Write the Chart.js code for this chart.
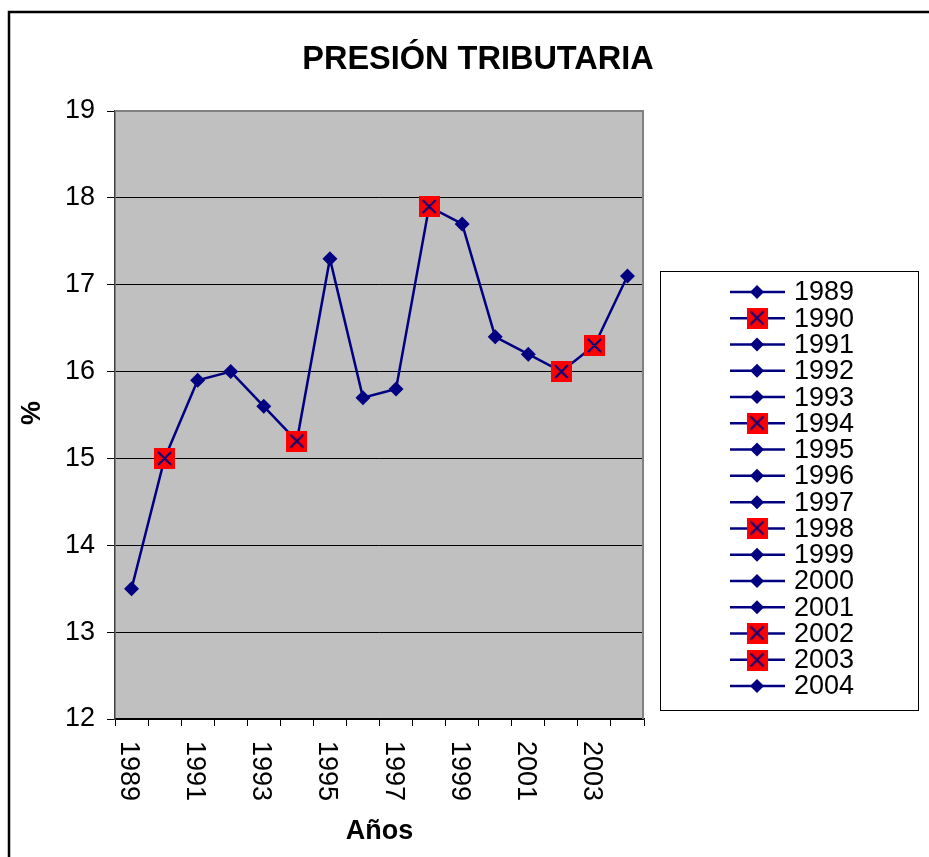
<!DOCTYPE html>
<html><head><meta charset="utf-8">
<script src="https://cdn.jsdelivr.net/npm/chart.js@4.4.0/dist/chart.umd.min.js"></script>
<style>html,body{margin:0;padding:0;background:#fff;} canvas{display:block;}</style>
</head><body>
<canvas id="c" width="929" height="857"></canvas>
<script>
// ---- data ----
const years = ['1989','1990','1991','1992','1993','1994','1995','1996','1997','1998','1999','2000','2001','2002','2003','2004'];
const presion = [13.5, 15.0, 15.9, 16.0, 15.6, 15.2, 17.3, 15.7, 15.8, 17.9, 17.7, 16.4, 16.2, 16.0, 16.3, 17.1];
const highlighted = ['1990','1994','1998','2002','2003'];
const xTickLabels = ['1989','1991','1993','1995','1997','1999','2001','2003'];
const yMin = 12, yMax = 19, yStep = 1;
const chartTitle = 'PRESIÓN TRIBUTARIA';
const xTitle = 'Años';
const yTitle = '%';

const FONT = "'Liberation Sans', Arial, sans-serif";
const NAVY = '#000080';

function makeFlagMarker(){
  const c = document.createElement('canvas');
  c.width = 21; c.height = 21;
  const g = c.getContext('2d');
  g.fillStyle = '#FF0000';
  g.fillRect(0,0,21,21);
  g.strokeStyle = NAVY; g.lineWidth = 2;
  g.beginPath();
  g.moveTo(4,4); g.lineTo(17,17);
  g.moveTo(17,4); g.lineTo(4,17);
  g.stroke();
  return c;
}
const flagMarker = makeFlagMarker();
const isFlag = y => highlighted.includes(y);

function drawDiamond(ctx, x, y, r){
  ctx.beginPath();
  ctx.moveTo(x, y-r); ctx.lineTo(x+r, y); ctx.lineTo(x, y+r); ctx.lineTo(x-r, y); ctx.closePath();
  ctx.fillStyle = NAVY; ctx.fill();
}

const decor = {
  id: 'decor',
  beforeDraw(chart){
    const ctx = chart.ctx, a = chart.chartArea;
    ctx.save();
    ctx.fillStyle = '#fff';
    ctx.fillRect(0,0,chart.width,chart.height);
    ctx.fillStyle = '#C0C0C0';
    ctx.fillRect(a.left, a.top, a.right-a.left, a.bottom-a.top);
    ctx.restore();
  },
  afterDraw(chart){
    const ctx = chart.ctx, a = chart.chartArea;
    const xs = chart.scales.x;
    ctx.save();
    // plot top/right border
    ctx.strokeStyle = '#808080'; ctx.lineWidth = 2;
    ctx.beginPath();
    ctx.moveTo(a.left, a.top); ctx.lineTo(a.right-1, a.top); ctx.lineTo(a.right-1, a.bottom);
    ctx.stroke();
    // outer border
    ctx.strokeStyle = '#000'; ctx.lineWidth = 2.5;
    ctx.strokeRect(9, 12, 1000, 1000);
    // title
    ctx.fillStyle = '#000';
    ctx.font = 'bold 32.5px ' + FONT;
    ctx.textAlign = 'center'; ctx.textBaseline = 'middle';
    ctx.fillText(chartTitle, 478, 60);
    // x title
    ctx.font = 'bold 27px ' + FONT;
    ctx.fillText(xTitle, (a.left+a.right)/2, 832);
    // y title
    ctx.save();
    ctx.translate(33, 413); ctx.rotate(-Math.PI/2);
    ctx.fillText(yTitle, 0, 0);
    ctx.restore();
    // x tick labels (rotated clockwise)
    ctx.font = '27px ' + FONT;
    ctx.textAlign = 'left'; ctx.textBaseline = 'middle';
    xTickLabels.forEach(lbl => {
      const px = xs.getPixelForValue(years.indexOf(lbl));
      ctx.save();
      ctx.translate(px - 3, 741); ctx.rotate(Math.PI/2);
      ctx.fillText(lbl, 0, 0);
      ctx.restore();
    });
    // legend
    ctx.strokeStyle = '#000'; ctx.lineWidth = 1;
    ctx.strokeRect(660.5, 271.5, 258, 439);
    ctx.font = '27px ' + FONT;
    ctx.textAlign = 'left'; ctx.textBaseline = 'middle';
    const step = (686-292)/(years.length-1);
    years.forEach((yr, i) => {
      const y = 292 + i*step;
      ctx.strokeStyle = NAVY; ctx.lineWidth = 2.5;
      ctx.beginPath(); ctx.moveTo(730, y); ctx.lineTo(785, y); ctx.stroke();
      if (isFlag(yr)) ctx.drawImage(flagMarker, 757-10.5, Math.round(y)-10.5);
      else drawDiamond(ctx, 757, y, 7);
      ctx.fillStyle = '#000';
      ctx.fillText(yr, 794, y + 1);
    });
    ctx.restore();
  }
};

new Chart(document.getElementById('c'), {
  type: 'line',
  data: {
    labels: years,
    datasets: [{
      label: 'Presión tributaria',
      data: presion,
      borderColor: NAVY,
      borderWidth: 2.5,
      tension: 0,
      pointStyle: years.map(y => isFlag(y) ? flagMarker : 'rectRot'),
      pointRadius: years.map(y => isFlag(y) ? 10.5 : 7.5),
      pointBackgroundColor: NAVY,
      pointBorderColor: NAVY,
      pointBorderWidth: 0,
      clip: false
    }]
  },
  options: {
    responsive: false,
    animation: false,
    events: [],
    layout: { padding: { top: 111, left: 0, right: 285, bottom: 0 } },
    plugins: { legend: { display: false }, title: { display: false }, tooltip: { enabled: false } },
    scales: {
      x: {
        type: 'category',
        offset: true,
        grid: { offset: true, drawOnChartArea: false, drawTicks: true, tickLength: 7, tickColor: '#000', tickWidth: 1 },
        border: { display: true, color: '#000', width: 1.5 },
        ticks: { display: false },
        afterFit(scale){ scale.height = 857 - 719; }
      },
      y: {
        min: yMin, max: yMax,
        ticks: { stepSize: yStep, color: '#000', font: { family: FONT, size: 27 }, padding: 12 },
        grid: { color: '#000', lineWidth: 1, drawTicks: true, tickLength: 8, tickColor: '#000' },
        border: { display: true, color: '#404040', width: 1.5 },
        afterFit(scale){ scale.width = 115; }
      }
    }
  },
  plugins: [decor]
});
</script>
</body></html>
